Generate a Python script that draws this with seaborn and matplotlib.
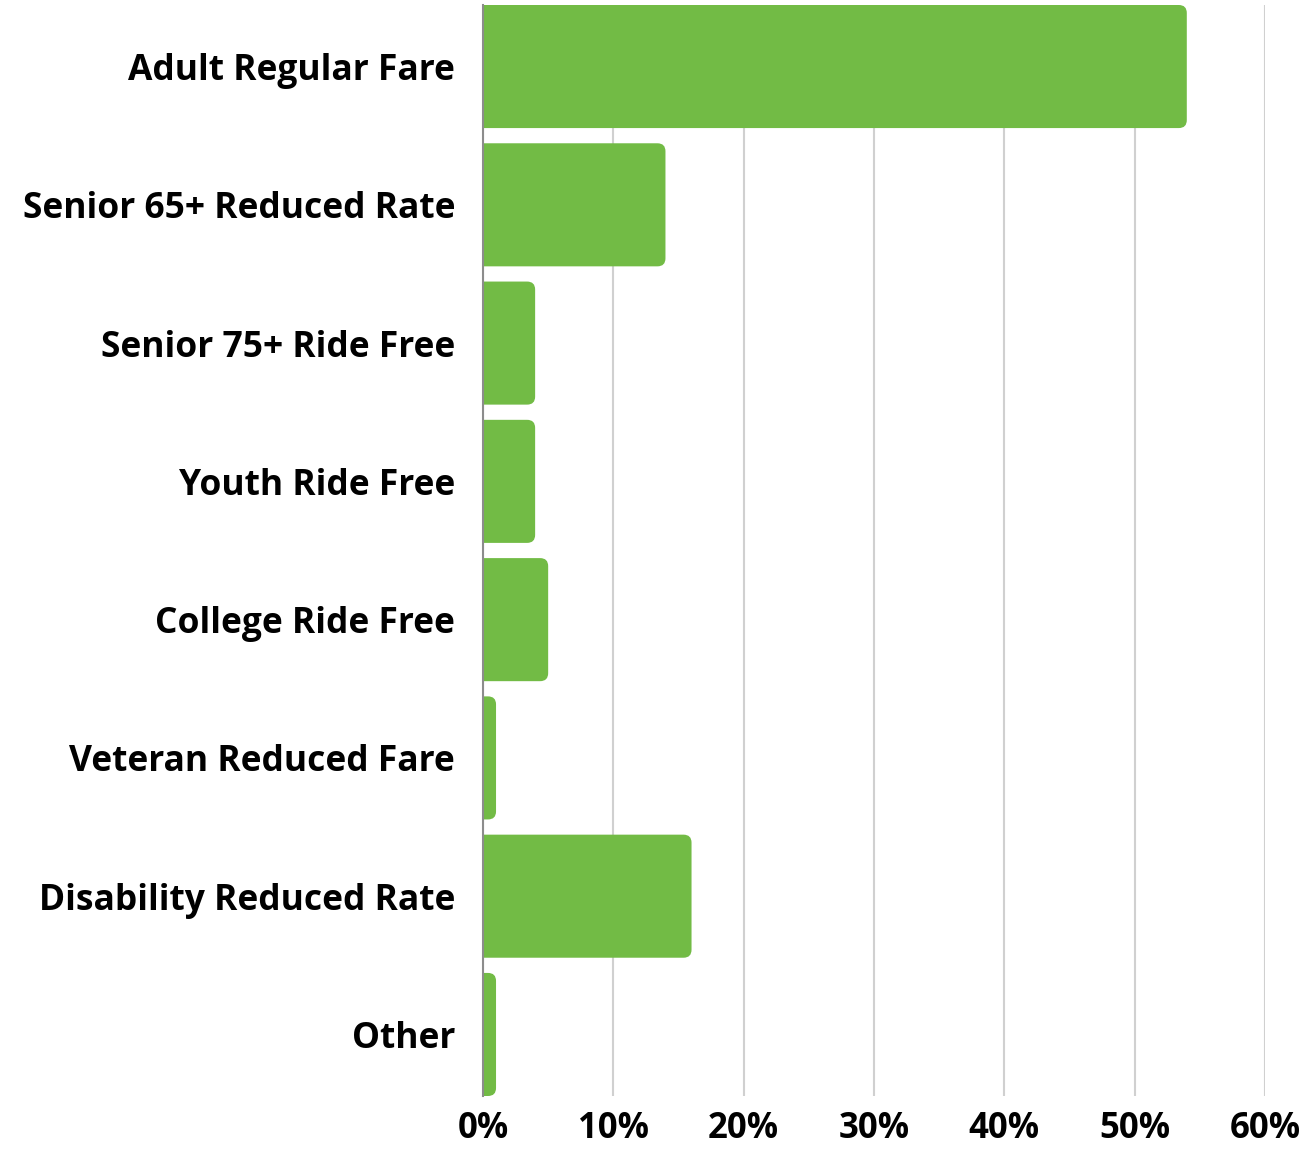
import matplotlib
matplotlib.use("Agg")
import matplotlib.pyplot as plt
from matplotlib.patches import FancyBboxPatch
from matplotlib.ticker import FuncFormatter, MultipleLocator
import seaborn as sns
import pandas as pd

categories = [
    "Adult Regular Fare",
    "Senior 65+ Reduced Rate",
    "Senior 75+ Ride Free",
    "Youth Ride Free",
    "College Ride Free",
    "Veteran Reduced Fare",
    "Disability Reduced Rate",
    "Other",
]
shares = [54, 14, 4, 4, 5, 1, 16, 1]

BAR_COLOR = "#72BB45"
GRID_COLOR = "#D0D0D0"

sns.set_theme(style="white")
plt.rcParams["font.family"] = ["Open Sans", "DejaVu Sans"]

df = pd.DataFrame({"category": categories, "share": shares})

W, H, DPI = 1303, 1150, 100
fig = plt.figure(figsize=(W / DPI, H / DPI), dpi=DPI)
ax_left, ax_right = 483 / W, 1265 / W
ax_top, ax_bottom = 1 - 5 / H, 1 - 1096 / H
ax = fig.add_axes([ax_left, ax_bottom, ax_right - ax_left, ax_top - ax_bottom])

bar_w = 0.89
sns.barplot(data=df, x="share", y="category", orient="h", color=BAR_COLOR,
            width=bar_w, saturation=1, ax=ax, zorder=3)

ax.set_xlim(0, 60)
ax.set_ylim(len(categories) - 1 + bar_w / 2, -bar_w / 2)

# swap the plain rectangles for bars with rounded ends
px_per_x = (ax_right - ax_left) * W / 60
px_per_y = (ax_top - ax_bottom) * H / (len(categories) - 1 + bar_w)
aspect = px_per_x / px_per_y
radius = 8 / px_per_x
for p in list(ax.patches):
    x0, y0 = p.get_x(), p.get_y()
    w, h = p.get_width(), p.get_height()
    ext = 2 * radius
    rb = FancyBboxPatch((x0 - ext, y0), w + ext, h,
                        boxstyle=f"round,pad=0,rounding_size={radius}",
                        mutation_aspect=aspect, facecolor=BAR_COLOR,
                        edgecolor="none", zorder=3, clip_on=True)
    p.remove()
    ax.add_patch(rb)

ax.xaxis.set_major_locator(MultipleLocator(10))
ax.xaxis.set_major_formatter(FuncFormatter(lambda v, _: f"{v:.0f}%"))
ax.grid(axis="x", color=GRID_COLOR, linewidth=1.5, zorder=0)
ax.grid(axis="y", visible=False)

for s in ["top", "right", "bottom"]:
    ax.spines[s].set_visible(False)
ax.spines["left"].set_color("#8C8C8C")
ax.spines["left"].set_linewidth(1.5)
ax.spines["left"].set_zorder(4)

ax.set_xlabel("")
ax.set_ylabel("")
ax.tick_params(axis="y", length=0, pad=20, labelsize=25.5)
ax.tick_params(axis="x", length=0, pad=11, labelsize=25)
for lbl in ax.get_yticklabels():
    lbl.set_fontweight("bold")
    lbl.set_color("black")
    lbl.set_va("center_baseline")
for lbl in ax.get_xticklabels():
    lbl.set_fontweight("bold")
    lbl.set_color("black")

fig.savefig("out.png", dpi=DPI, facecolor="white")
